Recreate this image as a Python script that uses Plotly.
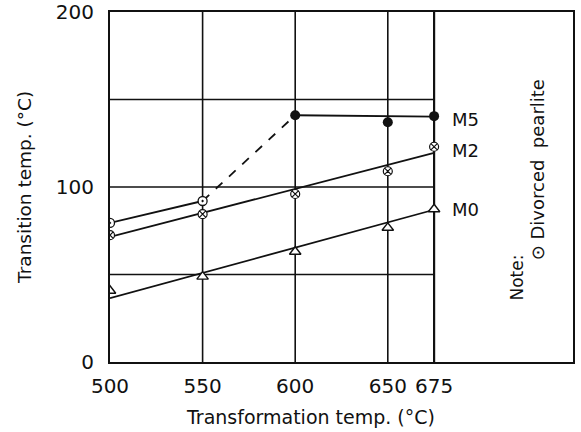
import plotly.graph_objects as go

# Transformation temperatures (°C)
temps = [500, 550, 600, 650, 675]

# Transition temperatures (°C) per steel
m0_vals = [40.7, 48.8, 63, 76.7, 87.3]
m2_vals = [72.5, 84.5, 96, 109, 123]
m5_temps = [600, 650, 675]
m5_vals = [141, 137, 140.5]
dp_temps = [500, 550]          # divorced pearlite points
dp_vals = [79.5, 92]

# Straight trend lines (end points)
fit_x = [500, 675]
m0_fit = [36.5, 87]
m2_fit = [71.5, 119.5]
m5_fit_x = [600, 675]
m5_fit = [141, 140.2]
dp_fit = [79.5, 92]
dash_x = [550, 600]
dash_y = [92, 141]

y_ticks = [0, 100, 200]
h_grid = [50, 100, 150]

FONT = "DejaVu Sans"
INK = "#111111"

fig = go.Figure()

line_style = dict(color=INK, width=1.8)

fig.add_trace(go.Scatter(x=fit_x, y=m0_fit, mode="lines", line=line_style, hoverinfo="skip"))
fig.add_trace(go.Scatter(x=fit_x, y=m2_fit, mode="lines", line=line_style, hoverinfo="skip"))
fig.add_trace(go.Scatter(x=m5_fit_x, y=m5_fit, mode="lines", line=line_style, hoverinfo="skip"))
fig.add_trace(go.Scatter(x=dp_temps, y=dp_fit, mode="lines", line=line_style, hoverinfo="skip"))
fig.add_trace(go.Scatter(x=dash_x, y=dash_y, mode="lines",
                         line=dict(color=INK, width=1.8, dash="dash"), hoverinfo="skip"))

fig.add_trace(go.Scatter(x=temps, y=m0_vals, mode="markers",
                         marker=dict(symbol="triangle-up", size=10, color="white",
                                     line=dict(color=INK, width=1.4))))
fig.add_trace(go.Scatter(x=temps, y=m2_vals, mode="markers",
                         marker=dict(symbol="circle-x", size=9, color="white",
                                     line=dict(color=INK, width=1.2))))
fig.add_trace(go.Scatter(x=dp_temps, y=dp_vals, mode="markers",
                         marker=dict(symbol="circle-dot", size=9, color="white",
                                     line=dict(color=INK, width=1.3))))
fig.add_trace(go.Scatter(x=m5_temps, y=m5_vals, mode="markers",
                         marker=dict(symbol="circle", size=10, color=INK,
                                     line=dict(color=INK, width=0))))

# Horizontal grid lines stop at the 675 °C line
for g in h_grid:
    fig.add_shape(type="line", xref="x", yref="y", x0=500, x1=675, y0=g, y1=g,
                  line=dict(color=INK, width=1.3), layer="below")
# Vertical grid lines
for t in temps[1:]:
    fig.add_shape(type="line", xref="x", yref="paper", x0=t, x1=t, y0=0, y1=1,
                  line=dict(color=INK, width=2.2 if t == 675 else 1.6), layer="below")

# Series labels
for name, yv in [("M5", 138.5), ("M2", 121), ("M0", 87)]:
    fig.add_annotation(x=675, y=yv, text=name, showarrow=False, xanchor="left",
                       xshift=16, font=dict(family=FONT, size=18, color=INK))

# Note (rotated)
fig.add_annotation(x=719.5, y=48, text="Note:", textangle=-90,
                   showarrow=False, xanchor="center", yanchor="middle",
                   font=dict(family=FONT, size=17, color=INK))
fig.add_annotation(x=731, y=110, text="\u2299 Divorced  pearlite", textangle=-90,
                   showarrow=False, xanchor="center", yanchor="middle",
                   font=dict(family=FONT, size=18, color=INK))

# Axis titles
fig.add_annotation(xref="paper", yref="paper", x=0.432, y=-0.157,
                   text="Transformation temp. (°C)", showarrow=False,
                   xanchor="center", yanchor="middle",
                   font=dict(family=FONT, size=19, color=INK))
fig.add_annotation(xref="paper", yref="paper", x=-0.186, y=0.5,
                   text="Transition temp. (°C)", showarrow=False, textangle=-90,
                   xanchor="center", yanchor="middle",
                   font=dict(family=FONT, size=18.5, color=INK))

fig.update_layout(
    width=581, height=432,
    margin=dict(l=110, r=8, t=12, b=70, autoexpand=False),
    paper_bgcolor="white", plot_bgcolor="white",
    showlegend=False,
    font=dict(family=FONT, color=INK),
    xaxis=dict(range=[500, 750], tickvals=temps, ticktext=[str(t) for t in temps],
               showgrid=False, zeroline=False, ticks="", showline=True, mirror=True,
               linecolor=INK, linewidth=2, tickfont=dict(size=20),
               ticklabelstandoff=5, automargin=False),
    yaxis=dict(range=[0, 200], tickvals=y_ticks, showgrid=False, zeroline=False,
               ticks="", showline=True, mirror=True, linecolor=INK, linewidth=2,
               tickfont=dict(size=20), ticklabelstandoff=10, automargin=False),
)

fig.write_html("out.html")
